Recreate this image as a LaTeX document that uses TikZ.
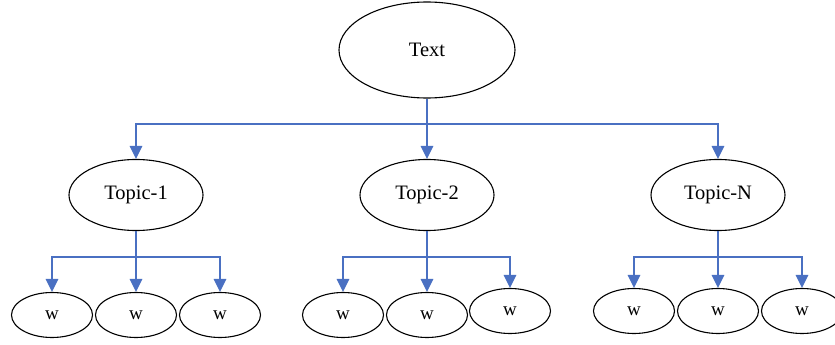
\documentclass[tikz,border=0pt]{standalone}
\usepackage{fontspec}
\setmainfont{Liberation Serif}
\usetikzlibrary{arrows.meta,shapes.geometric}
\definecolor{linkblue}{HTML}{4A70C2}
\begin{document}
\begin{tikzpicture}[x=1pt,y=-1pt,
  oval/.style={ellipse,draw=black,line width=1.1pt,fill=white,inner sep=0pt},
  rootoval/.style={oval,minimum width=176pt,minimum height=96pt,font=\fontsize{20.5}{22}\selectfont},
  topicoval/.style={oval,minimum width=134pt,minimum height=71pt,font=\fontsize{20.5}{22}\selectfont},
  wordoval/.style={oval,minimum width=81pt,minimum height=45pt,font=\fontsize{19}{20}\selectfont},
  link/.style={draw=linkblue,line width=1.4pt,-{Triangle[length=13pt,width=12.5pt]}}
]
\useasboundingbox (0,0) rectangle (835,345);

% root
\node[rootoval] (root) at (427,50) {Text};

% topics
\node[topicoval] (t1) at (136,195) {Topic-1};
\node[topicoval] (t2) at (427,195) {Topic-2};
\node[topicoval] (tN) at (718,195) {Topic-N};

% words
\node[wordoval] (w11) at (52,315) {w};
\node[wordoval] (w12) at (136,315) {w};
\node[wordoval] (w13) at (220,315) {w};
\node[wordoval] (w21) at (343,315) {w};
\node[wordoval] (w22) at (427,315) {w};
\node[wordoval] (w23) at (510,311) {w};
\node[wordoval] (wN1) at (634,311) {w};
\node[wordoval] (wN2) at (718,311) {w};
\node[wordoval] (wN3) at (802,311) {w};

% branching points
\coordinate (r0) at (427,124);
\coordinate (b1) at (136,257);
\coordinate (b2) at (427,257);
\coordinate (bN) at (718,257);

% root to topics
\draw[link] (root.south) -- (t2.north);
\draw[link] (r0) -| (t1.north);
\draw[link] (r0) -| (tN.north);

% topics to words
\foreach \t/\b/\a/\c/\d in {t1/b1/w11/w12/w13, t2/b2/w21/w22/w23, tN/bN/wN1/wN2/wN3}{
  \draw[link] (\t.south) -- (\c.north);
  \draw[link] (\b) -| (\a.north);
  \draw[link] (\b) -| (\d.north);
}
\end{tikzpicture}
\end{document}
